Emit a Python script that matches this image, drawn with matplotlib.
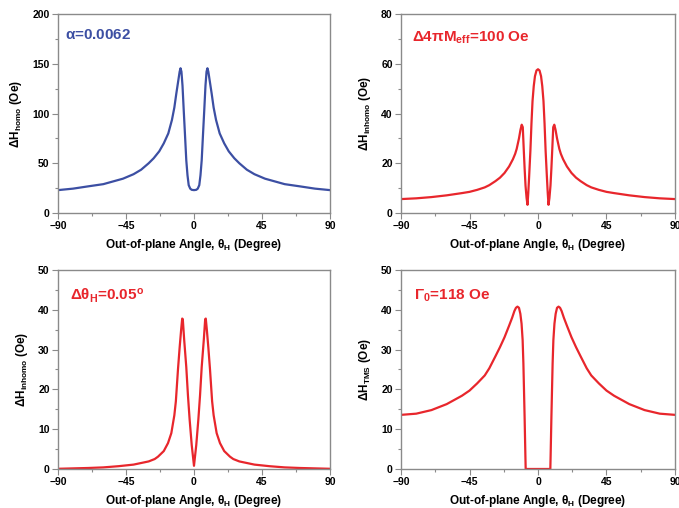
import matplotlib
matplotlib.use("Agg")
import matplotlib.pyplot as plt
from matplotlib.ticker import MultipleLocator

plt.rcParams['font.family'] = ['Liberation Sans', 'DejaVu Sans']
plt.rcParams['font.weight'] = 'bold'
plt.rcParams['mathtext.fontset'] = 'custom'
plt.rcParams['mathtext.rm'] = 'Liberation Sans:bold'
plt.rcParams['mathtext.it'] = 'Liberation Sans:bold'
plt.rcParams['mathtext.bf'] = 'Liberation Sans:bold'

# values
ang_homo = [-90, -80, -70, -60, -47, -40, -35, -30, -26.7, -23, -20, -17, -14.6, -13,
            -11.7, -10.3, -9.5, -8.9, -8.3, -7.6, -6.8, -6, -5.1, -4.3, -3.5, -2.5,
            -1.5, 0,
            1.5, 2.5, 3.5, 4.3, 5.1, 6, 6.8, 7.6, 8.3, 8.9, 9.5, 10.3, 11.7, 13,
            14.6, 17, 20, 23, 26.7, 30, 35, 40, 47, 60, 70, 80, 90]
dh_homo = [23, 24.5, 26.8, 29, 34.5, 39, 43.5, 50, 55, 62, 70, 80, 93.5, 106,
           120, 134, 142, 145.5, 142, 128, 103.5, 80, 53, 38, 28, 24.5,
           23.3, 23,
           23.3, 24.5, 28, 38, 53, 80, 103.5, 128, 142, 145.5, 142, 134, 120, 106,
           93.5, 80, 70, 62, 55, 50, 43.5, 39, 34.5, 29, 26.8, 24.5, 23]

ang_meff = [-90, -80, -70, -60, -50, -45, -40, -35, -32, -28, -25, -22, -19, -16.5, -15,
            -14, -12.5, -11.5, -10.7, -10, -9.4, -8.8, -8.2, -7.5, -6.9, -6.4, -5.8,
            -5, -4.3, -3.6, -2.8, -2, -1, 0,
            1, 2, 2.8, 3.6, 4.3, 5, 5.8, 6.4, 6.9, 7.5, 8.2, 8.8, 9.4, 10, 10.7,
            11.5, 12.5, 14, 15, 16.5, 19, 22, 25, 28, 32, 35, 40, 45, 50, 60, 70, 80, 90]
dh_meff = [5.6, 5.9, 6.4, 7.1, 8.0, 8.5, 9.3, 10.3, 11.2, 12.8, 14.2, 16.1, 18.7, 21.6, 23.8,
           25.8, 30, 33.5, 35.5, 34.5, 26, 18, 11, 6, 3.3, 8, 15,
           25, 36, 45, 51, 55, 57.3, 57.8,
           57.3, 55, 51, 45, 36, 25, 15, 8, 3.3, 6, 11, 18, 26, 34.5, 35.5,
           33.5, 30, 25.8, 23.8, 21.6, 18.7, 16.1, 14.2, 12.8, 11.2, 10.3, 9.3, 8.5, 8.0, 7.1, 6.4, 5.9, 5.6]

ang_th = [-90, -80, -70, -60, -50, -45, -40, -35, -30, -26, -23.8, -20, -17.2, -15,
          -13, -12, -10.6, -9.5, -8.5, -7.8, -7.4, -6.5, -5.1, -4, -2.9, -1.5, 0,
          1.5, 2.9, 4, 5.1, 6.5, 7.4, 7.8, 8.5, 9.5, 10.6, 12, 13, 15, 17.2, 20,
          23.8, 26, 30, 35, 40, 45, 50, 60, 70, 80, 90]
dh_th = [0.05, 0.15, 0.25, 0.4, 0.7, 0.9, 1.1, 1.5, 1.9, 2.5, 3.1, 4.5, 6.5, 9.0,
         13.5, 17, 25, 30.5, 35, 37.8, 37.6, 32.5, 25.6, 18.5, 12.5, 6, 0.8,
         6, 12.5, 18.5, 25.6, 32.5, 37.6, 37.8, 35, 30.5, 25, 17, 13.5, 9.0, 6.5, 4.5,
         3.1, 2.5, 1.9, 1.5, 1.1, 0.9, 0.7, 0.4, 0.25, 0.15, 0.05]

ang_tms = [-90, -80, -70, -60, -50, -45, -40, -35, -32, -28, -25, -22, -19, -17, -15.5,
           -14.5, -13.5, -12.5, -11.6, -10.8, -10.1, -9.6, -9.2, -8.8, -8.5, -8.3, -8.1, 0,
           8.1, 8.3, 8.5, 8.8, 9.2, 9.6, 10.1, 10.8, 11.6, 12.5, 13.5, 14.5, 15.5, 17,
           19, 22, 25, 28, 32, 35, 40, 45, 50, 60, 70, 80, 90]
dh_tms = [13.6, 13.9, 14.8, 16.3, 18.4, 19.7, 21.5, 23.5, 25.3, 28.3, 30.6, 33.1, 36, 38, 39.7,
          40.5, 40.8, 40.5, 39, 36.5, 32.4, 26.5, 19.8, 13, 7.3, 3.5, 0, 0,
          0, 3.5, 7.3, 13, 19.8, 26.5, 32.4, 36.5, 39, 40.5, 40.8, 40.5, 39.7, 38,
          36, 33.1, 30.6, 28.3, 25.3, 23.5, 21.5, 19.7, 18.4, 16.3, 14.8, 13.9, 13.6]

blue = '#3c4fa3'
red = '#e8262c'
grey = '#8a8a8a'

panels = [
    ([0.0854, 0.5807, 0.4006, 0.3917], ang_homo, dh_homo, blue, 200, 50,
     r'$\Delta$H$_{\rm homo}$ (Oe)', r'$\alpha$=0.0062', (0.026, 0.894)),
    ([0.5906, 0.5807, 0.4035, 0.3917], ang_meff, dh_meff, red, 80, 20,
     r'$\Delta$H$_{\rm inhomo}$ (Oe)', r'$\Delta$4$\pi$M$_{\rm eff}$=100 Oe', (0.039, 0.88)),
    ([0.0854, 0.0768, 0.4006, 0.3917], ang_th, dh_th, red, 50, 10,
     r'$\Delta$H$_{\rm inhomo}$ (Oe)', r'$\Delta\theta_{\rm H}$=0.05$^{\rm o}$', (0.044, 0.871)),
    ([0.5906, 0.0768, 0.4035, 0.3917], ang_tms, dh_tms, red, 50, 10,
     r'$\Delta$H$_{\rm TMS}$ (Oe)', r'$\Gamma_{\rm 0}$=118 Oe', (0.047, 0.871)),
]

fig = plt.figure(figsize=(6.79, 5.08), dpi=100)

for rect, x, y, col, ymax, ystep, ylab, note, pos in panels:
    ax = fig.add_axes(rect)
    ax.plot(x, y, color=col, lw=1.6)
    ax.set_xlim(-90, 90)
    ax.set_ylim(0, ymax)
    ax.xaxis.set_major_locator(MultipleLocator(45))
    ax.xaxis.set_minor_locator(MultipleLocator(22.5))
    ax.yaxis.set_major_locator(MultipleLocator(ystep))
    ax.yaxis.set_minor_locator(MultipleLocator(ystep / 2))
    for s in ax.spines.values():
        s.set_color(grey)
        s.set_linewidth(1.0)
    ax.tick_params(which='major', length=4, width=0.8, color=grey, labelsize=7.5, pad=2)
    ax.tick_params(which='minor', length=2.5, width=0.8, color=grey)
    for lbl in ax.get_xticklabels() + ax.get_yticklabels():
        lbl.set_fontweight('bold')
    ax.set_xlabel(r'Out-of-plane Angle, $\theta_{\rm H}$ (Degree)', fontsize=8.5,
                  fontweight='bold', labelpad=4)
    ax.set_ylabel(ylab, fontsize=8.5, fontweight='bold', labelpad=6)
    ax.text(pos[0], pos[1], note, transform=ax.transAxes, color=col, fontsize=11,
            fontweight='bold', ha='left', va='center')

fig.savefig('out.png', dpi=100)
